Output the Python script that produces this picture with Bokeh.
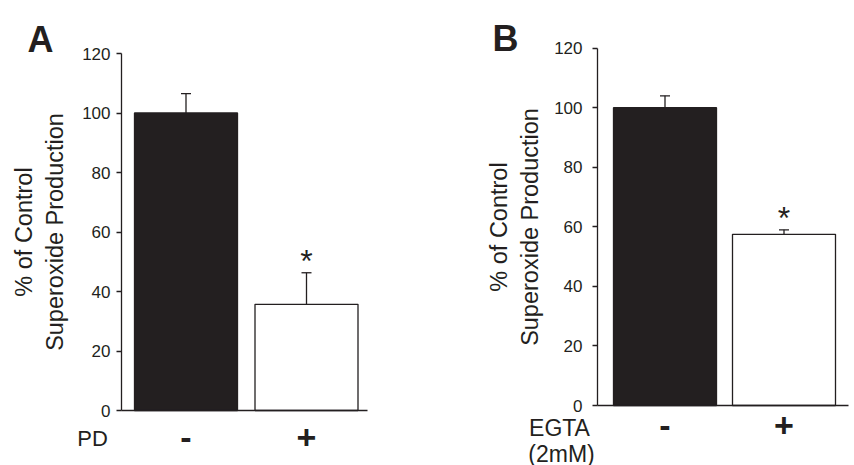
from bokeh.plotting import figure
from bokeh.layouts import row
from bokeh.models import Range1d, FixedTicker, ColumnDataSource, Whisker, TeeHead, Label
from bokeh.core.properties import value
from bokeh.embed import file_html
from bokeh.resources import INLINE

# ---------------- data ----------------
groups = [1, 2]
group_labels = ["-", "+"]
bar_fills = ["#231f20", "#ffffff"]
y_ticks = [0, 20, 40, 60, 80, 100, 120]
y_label = "% of Control\nSuperoxide Production"

a_means = [100.0, 35.7]
a_errors = [6.5, 10.6]
a_star_x = [2]
a_star_y = [52.1]
a_treatment = ["PD"]

b_means = [100.0, 57.5]
b_errors = [4.0, 1.5]
b_star_x = [2]
b_star_y = [64.5]
b_treatment = ["EGTA", "(2mM)"]

INK = "#231f20"
FONT = "Liberation Sans"
FIG_H = 465
STAR_FS = 32


def make_panel(means, errors, star_x, star_y, letter, treat_lines, treat_pos, treat_fs,
               ox, fig_w, x1_px, x2_px, y0_px, y120_px, yaxis_px, xend_px,
               bar_px, letter_pos, label_standoff, x_standoff, tick_standoff):
    # linear maps from page pixels to data units (layout only)
    def dx(px):
        return 1 + (px - x1_px) / (x2_px - x1_px)

    def dy(py):
        return (y0_px - py) / (y0_px - y120_px) * 120

    bar_w = bar_px / (x2_px - x1_px)

    p = figure(width=fig_w, height=FIG_H, output_backend="svg", toolbar_location=None,
               title=None,
               x_range=Range1d(dx(ox), dx(ox + fig_w)),
               y_range=Range1d(dy(FIG_H), dy(0)),
               min_border_left=0, min_border_top=0,
               min_border_right=0, min_border_bottom=0)
    p.outline_line_color = None
    p.xgrid.visible = False
    p.ygrid.visible = False
    p.background_fill_color = "white"
    p.border_fill_color = "white"

    upper = [m + e for m, e in zip(means, errors)]
    src = ColumnDataSource(dict(x=groups, top=means, upper=upper, fill=bar_fills))
    p.vbar(x="x", top="top", bottom=0, width=bar_w, source=src,
           fill_color="fill", line_color=INK, line_width=1.3)
    p.add_layout(Whisker(base="x", lower="top", upper="upper", source=src,
                         line_color=INK, line_width=1.3,
                         upper_head=TeeHead(size=10, line_color=INK, line_width=1.3),
                         lower_head=None))

    p.text(x=star_x, y=star_y, text=["*"], text_align="center",
           text_baseline="alphabetic", y_offset=5,
           text_font=value(FONT), text_font_size=f"{STAR_FS}px", text_color=INK)

    # y axis, drawn at a fixed location inside the canvas
    ya = p.yaxis[0]
    ya.fixed_location = dx(yaxis_px)
    ya.bounds = (y_ticks[0], y_ticks[-1])
    ya.ticker = FixedTicker(ticks=y_ticks)
    ya.minor_tick_line_color = None
    ya.major_tick_out = 5
    ya.major_tick_in = 0
    ya.axis_line_color = INK
    ya.axis_line_width = 1.3
    ya.major_tick_line_color = INK
    ya.major_tick_line_width = 1.3
    ya.major_label_text_font = FONT
    ya.major_label_text_font_size = "17px"
    ya.major_label_text_color = INK
    ya.major_label_standoff = tick_standoff
    ya.axis_label = y_label
    ya.axis_label_text_font = FONT
    ya.axis_label_text_font_size = "23.5px"
    ya.axis_label_text_font_style = "normal"
    ya.axis_label_text_color = INK
    ya.axis_label_standoff = label_standoff

    # x axis along y = 0
    xa = p.xaxis[0]
    xa.fixed_location = 0
    xa.bounds = (dx(yaxis_px), dx(xend_px))
    xa.ticker = FixedTicker(ticks=groups)
    xa.major_label_overrides = {g: s for g, s in zip(groups, group_labels)}
    xa.major_tick_line_color = None
    xa.minor_tick_line_color = None
    xa.axis_line_color = INK
    xa.axis_line_width = 1.3
    xa.major_label_text_font = FONT
    xa.major_label_text_font_style = "bold"
    xa.major_label_text_font_size = "34px"
    xa.major_label_text_color = INK
    xa.major_label_standoff = x_standoff

    p.add_layout(Label(x=dx(letter_pos[0]), y=dy(letter_pos[1]), text=letter,
                       text_font=FONT, text_font_size="36px", text_font_style="bold",
                       text_color=INK, text_align="left", text_baseline="alphabetic"))
    for txt, (px, py) in zip(treat_lines, treat_pos):
        p.add_layout(Label(x=dx(px), y=dy(py), text=txt, text_font=FONT,
                           text_font_size=f"{treat_fs}px", text_color=INK,
                           text_align="center", text_baseline="middle"))
    return p


pa = make_panel(a_means, a_errors, a_star_x, a_star_y, "A", a_treatment,
                treat_pos=[(92, 438)], treat_fs=22,
                ox=0, fig_w=424, x1_px=185.5, x2_px=306, y0_px=410, y120_px=53,
                yaxis_px=121, xend_px=367, bar_px=103, letter_pos=(27, 39),
                label_standoff=11, x_standoff=9, tick_standoff=6)
pb = make_panel(b_means, b_errors, b_star_x, b_star_y, "B", b_treatment,
                treat_pos=[(559, 427), (561, 453)], treat_fs=23,
                ox=424, fig_w=430, x1_px=664.5, x2_px=783.5, y0_px=405, y120_px=47.7,
                yaxis_px=597, xend_px=848, bar_px=103, letter_pos=(492, 38),
                label_standoff=8, x_standoff=2, tick_standoff=10)

layout = row(pa, pb)
open("out.html", "w").write(file_html(layout, INLINE))
